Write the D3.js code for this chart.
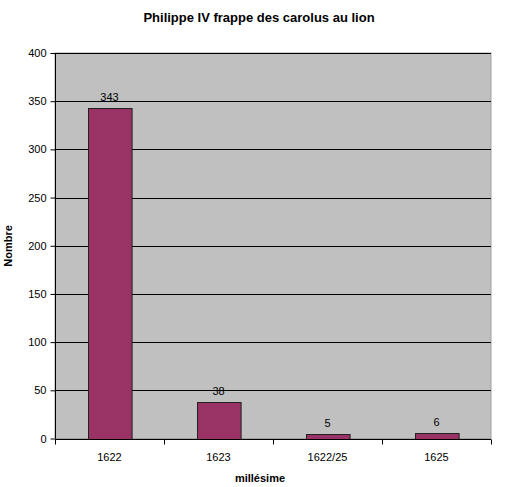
<!DOCTYPE html>
<meta charset="utf-8">
<style>
body { margin: 0; background: #fff; }
text { font-family: "Liberation Sans", Arial, sans-serif; }
</style>
<svg></svg>
<script src="https://cdn.jsdelivr.net/npm/d3@7"></script>
<script>

var categories = ["1622", "1623", "1622/25", "1625"],
    values = [343, 38, 5, 6],
    yTicks = [0, 50, 100, 150, 200, 250, 300, 350, 400];

var width = 508, height = 487;
var margin = {top: 53, right: 17, bottom: 48.5, left: 55};

var svg = d3.select("svg")
    .attr("width", width)
    .attr("height", height);

var x = d3.scaleBand()
    .domain(categories)
    .range([margin.left, width - margin.right])
    .paddingInner(0.6)
    .paddingOuter(0.3);

var xb = d3.scaleBand()
    .domain(categories)
    .range([margin.left, width - margin.right]);

var y = d3.scaleLinear()
    .domain([0, 400])
    .range([height - margin.bottom, margin.top]);

// plot area
svg.append("rect")
    .attr("x", margin.left)
    .attr("y", margin.top)
    .attr("width", width - margin.left - margin.right)
    .attr("height", height - margin.top - margin.bottom)
    .attr("fill", "#c0c0c0")
    .attr("stroke", "#a0a0a0");

// gridlines
svg.append("g").selectAll("line")
    .data(yTicks.slice(1))
  .enter().append("line")
    .attr("x1", margin.left)
    .attr("x2", width - margin.right)
    .attr("y1", function(d) { return Math.round(y(d)) + 0.5; })
    .attr("y2", function(d) { return Math.round(y(d)) + 0.5; })
    .attr("stroke", "#000");

// bars
svg.append("g").selectAll("rect")
    .data(values)
  .enter().append("rect")
    .attr("x", function(d, i) { return Math.round(x(categories[i])) + 0.5; })
    .attr("y", function(d) { return Math.round(y(d)) + 0.5; })
    .attr("width", x.bandwidth())
    .attr("height", function(d) { return Math.round(y(0)) - Math.round(y(d)); })
    .attr("fill", "#993366")
    .attr("stroke", "#222");

// value labels
svg.append("g").selectAll("text")
    .data(values)
  .enter().append("text")
    .attr("x", function(d, i) { return x(categories[i]) + x.bandwidth() / 2; })
    .attr("y", function(d) { return y(d) - 7; })
    .attr("text-anchor", "middle")
    .attr("font-size", "11px")
    .attr("fill", "#000")
    .text(function(d) { return d; });

// y axis
var yAxis = svg.append("g")
    .attr("transform", "translate(" + (margin.left + 0.5) + ",0)")
    .call(d3.axisLeft(y).tickValues(yTicks).tickSize(5).tickPadding(4).tickFormat(d3.format("d")));
yAxis.selectAll("text").attr("font-size", "11px").attr("fill", "#000")
    .attr("font-family", "Liberation Sans, Arial, sans-serif");
yAxis.selectAll("line").attr("stroke", "#000");
yAxis.select(".domain").attr("stroke", "#000").attr("d", "M0," + y(0) + "V" + y(400));

// x axis
var xAxisY = Math.round(y(0)) + 0.5;
var xAxis = svg.append("g")
    .attr("transform", "translate(0," + xAxisY + ")");
xAxis.append("line")
    .attr("x1", margin.left)
    .attr("x2", width - margin.right)
    .attr("stroke", "#000");
xAxis.selectAll(".tick")
    .data(categories.concat([null]))
  .enter().append("line")
    .attr("x1", function(d, i) { return Math.round(margin.left + i * xb.bandwidth()) + 0.5; })
    .attr("x2", function(d, i) { return Math.round(margin.left + i * xb.bandwidth()) + 0.5; })
    .attr("y1", 0)
    .attr("y2", 5)
    .attr("stroke", "#000");
xAxis.selectAll("text")
    .data(categories)
  .enter().append("text")
    .attr("x", function(d) { return xb(d) + xb.bandwidth() / 2; })
    .attr("y", 21)
    .attr("text-anchor", "middle")
    .attr("font-size", "11px")
    .text(function(d) { return d; });

// title
svg.append("text")
    .attr("x", 259)
    .attr("y", 22)
    .attr("text-anchor", "middle")
    .attr("font-size", "13px")
    .attr("font-weight", "bold")
    .text("Philippe IV frappe des carolus au lion");

// axis titles
svg.append("text")
    .attr("x", 260)
    .attr("y", 482)
    .attr("text-anchor", "middle")
    .attr("font-size", "11px")
    .attr("font-weight", "bold")
    .text("millésime");

svg.append("text")
    .attr("transform", "translate(12,246) rotate(-90)")
    .attr("text-anchor", "middle")
    .attr("font-size", "11px")
    .attr("font-weight", "bold")
    .text("Nombre");

</script>
